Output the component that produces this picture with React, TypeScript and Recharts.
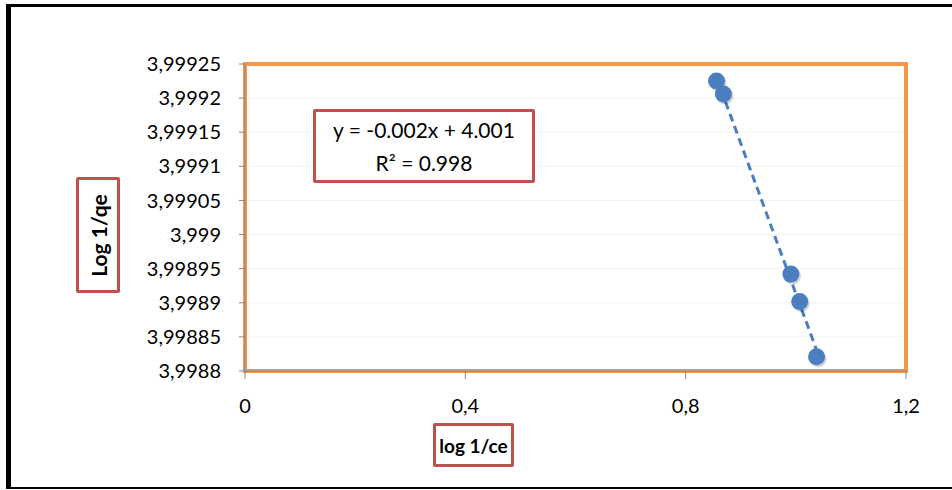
import React from 'react';
import {
  ScatterChart,
  Scatter,
  XAxis,
  YAxis,
  CartesianGrid,
  ReferenceArea,
} from 'recharts';

// values
const logInvCe = [0.856, 0.8685, 0.991, 1.007, 1.0376];
const logInvQe = [3.999225, 3.999206, 3.998942, 3.998902, 3.998821];

const xTicks = [0, 0.4, 0.8, 1.2];
const xTickLabels = ['0', '0,4', '0,8', '1,2'];
const yTicks = [3.9988, 3.99885, 3.9989, 3.99895, 3.999, 3.99905, 3.9991, 3.99915, 3.9992, 3.99925];
const yTickLabels = ['3,9988', '3,99885', '3,9989', '3,99895', '3,999', '3,99905', '3,9991', '3,99915', '3,9992', '3,99925'];

const equationText = 'y = -0.002x + 4.001';
const r2Text = 'R² = 0.998';

const FONT = 'Lato, "Open Sans", sans-serif';
const BLUE = '#4a7ebf';
const ORANGE = '#f79646';
const RED = '#c0504d';

const points = logInvCe.map((x, i) => ({ x, y: logInvQe[i] }));

// linear trendline (least squares) over the data x range
const fitLine = (() => {
  const n = points.length;
  const mx = logInvCe.reduce((a, b) => a + b, 0) / n;
  const my = logInvQe.reduce((a, b) => a + b, 0) / n;
  let sxy = 0;
  let sxx = 0;
  points.forEach((p) => {
    sxy += (p.x - mx) * (p.y - my);
    sxx += (p.x - mx) * (p.x - mx);
  });
  const slope = sxy / sxx;
  const x0 = Math.min(...logInvCe);
  const x1 = Math.max(...logInvCe);
  return [
    { x: x0, y: my + slope * (x0 - mx) },
    { x: x1, y: my + slope * (x1 - mx) },
  ];
})();

const Marker = (props: any) => {
  const { cx, cy } = props;
  if (cx == null || cy == null) return null;
  return (
    <g>
      <circle cx={cx + 1.5} cy={cy + 2} r={8.5} fill="rgba(0,0,0,0.18)" />
      <circle cx={cx} cy={cy} r={8.5} fill={BLUE} />
    </g>
  );
};

const titleBox: React.CSSProperties = {
  position: 'absolute',
  border: `3px solid ${RED}`,
  borderRadius: 2,
  background: '#fff',
  boxSizing: 'border-box',
  display: 'flex',
  alignItems: 'center',
  justifyContent: 'center',
  fontFamily: FONT,
  fontWeight: 700,
  fontSize: 20,
  color: '#000',
};

export default function App() {
  return (
    <div style={{ position: 'absolute', left: 0, top: 0, width: 952, height: 490, background: '#fff' }}>
      <div
        style={{
          position: 'absolute',
          left: 6,
          top: 4,
          width: 946,
          height: 485,
          borderLeft: '5px solid #000',
          borderTop: '3px solid #000',
          borderBottom: '2px solid #000',
          boxSizing: 'border-box',
        }}
      />
      <div style={{ position: 'absolute', left: 0, top: 0 }}>
        <ScatterChart width={952} height={490} margin={{ top: 64, right: 46, left: 145, bottom: 79 }}>
          <CartesianGrid vertical={false} stroke="#f2f2f2" />
          <XAxis
            type="number"
            dataKey="x"
            domain={[0, 1.2]}
            ticks={xTicks}
            tickFormatter={(v, i) => xTickLabels[i] ?? String(v)}
            height={40}
            stroke="#868686"
            tickSize={8}
            tickMargin={20}
            tick={{ fill: '#000', fontSize: 20, fontFamily: FONT }}
            allowDataOverflow
          />
          <YAxis
            type="number"
            dataKey="y"
            domain={[3.9988, 3.99925]}
            ticks={yTicks}
            tickFormatter={(v, i) => yTickLabels[i] ?? String(v)}
            width={100}
            stroke="#868686"
            tickSize={6}
            tickMargin={18}
            tick={{ fill: '#000', fontSize: 20, fontFamily: FONT }}
            allowDataOverflow
          />
          <ReferenceArea
            x1={0}
            x2={1.2}
            y1={3.9988}
            y2={3.99925}
            fill="none"
            stroke={ORANGE}
            strokeWidth={4}
            ifOverflow="visible"
          />
          <Scatter
            data={fitLine}
            line={{ stroke: BLUE, strokeWidth: 3, strokeDasharray: '8 5' }}
            shape={() => null}
            isAnimationActive={false}
          />
          <Scatter data={points} shape={<Marker />} isAnimationActive={false} />
        </ScatterChart>
      </div>
      <div
        style={{
          ...titleBox,
          left: 313,
          top: 109,
          width: 222,
          height: 74,
          flexDirection: 'column',
          fontWeight: 400,
          fontSize: 21,
          lineHeight: '33px',
        }}
      >
        <div>{equationText}</div>
        <div>{r2Text}</div>
      </div>
      <div style={{ ...titleBox, left: 76, top: 177, width: 44, height: 116, fontSize: 21 }}>
        <div style={{ transform: 'rotate(-90deg)', whiteSpace: 'nowrap' }}>Log 1/qe</div>
      </div>
      <div style={{ ...titleBox, left: 433, top: 423, width: 81, height: 44, fontSize: 19 }}>log 1/ce</div>
    </div>
  );
}
